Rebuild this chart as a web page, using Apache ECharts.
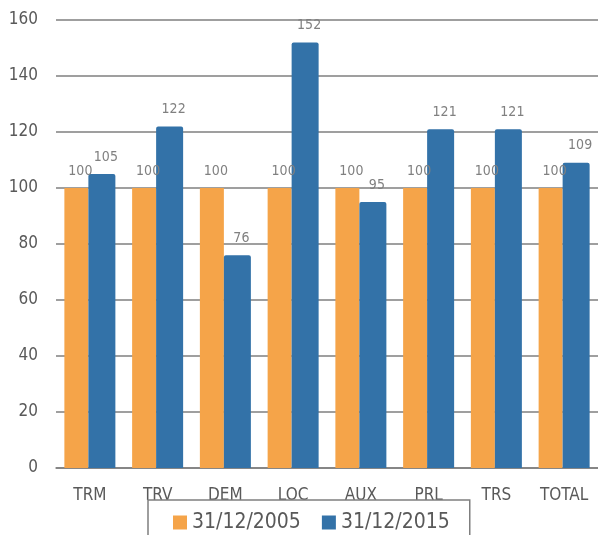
<!DOCTYPE html>
<html>
<head>
<meta charset="utf-8">
<script src="https://cdn.jsdelivr.net/npm/echarts@6/dist/echarts.min.js"></script>
<style>
  html, body { margin: 0; padding: 0; background: #fff; }
  #chart { width: 598px; height: 535px; }
</style>
</head>
<body>
<div id="chart"></div>
<script>
// categorias y valores (indice base 100)
var categories = ['TRM', 'TRV', 'DEM', 'LOC', 'AUX', 'PRL', 'TRS', 'TOTAL'];
var serie2005 = [100, 100, 100, 100, 100, 100, 100, 100];
var serie2015 = [105, 122, 76, 152, 95, 121, 121, 109];
var yTicks = { min: 0, max: 160, interval: 20 };

var fuente = '"DejaVu Sans Condensed", "Liberation Sans", sans-serif';
var gris = '#7f7f7f';

var chart = echarts.init(document.getElementById('chart'));

var labelBarra = {
    show: true,
    position: 'top',
    distance: 10,
    offset: [4, 0],
    color: '#808080',
    fontFamily: fuente,
    fontSize: 14
};

var option = {
    animation: false,
    grid: {
        left: 56,
        top: 20,
        width: 544,
        height: 448
    },
    legend: {
        left: 148,
        top: 500,
        padding: [12, 20, 20, 25],
        borderColor: gris,
        borderWidth: 1.5,
        itemWidth: 14,
        itemHeight: 14,
        itemGap: 21,
        icon: 'rect',
        textStyle: {
            fontFamily: fuente,
            fontSize: 21,
            color: '#595959'
        },
        data: ['31/12/2005', '31/12/2015']
    },
    xAxis: {
        type: 'category',
        data: categories,
        axisTick: { show: false },
        axisLine: { lineStyle: { color: gris, width: 1.5 } },
        axisLabel: {
            margin: 19,
            color: '#595959',
            fontFamily: fuente,
            fontSize: 17
        }
    },
    yAxis: {
        type: 'value',
        min: yTicks.min,
        max: yTicks.max,
        interval: yTicks.interval,
        axisLine: { show: false },
        axisTick: { show: false },
        splitLine: { lineStyle: { color: gris, width: 1.5 } },
        axisLabel: {
            margin: 18,
            color: '#595959',
            fontFamily: fuente,
            fontSize: 17
        }
    },
    series: [
        {
            name: '31/12/2005',
            type: 'bar',
            barWidth: 24,
            barGap: 0,
            itemStyle: { color: '#F5A449' },
            label: labelBarra,
            data: serie2005
        },
        {
            name: '31/12/2015',
            type: 'bar',
            barWidth: 27,
            barGap: 0,
            itemStyle: { color: '#3372A8', borderRadius: [2, 2, 0, 0] },
            label: labelBarra,
            data: serie2015
        }
    ]
};

chart.setOption(option);
</script>
</body>
</html>
